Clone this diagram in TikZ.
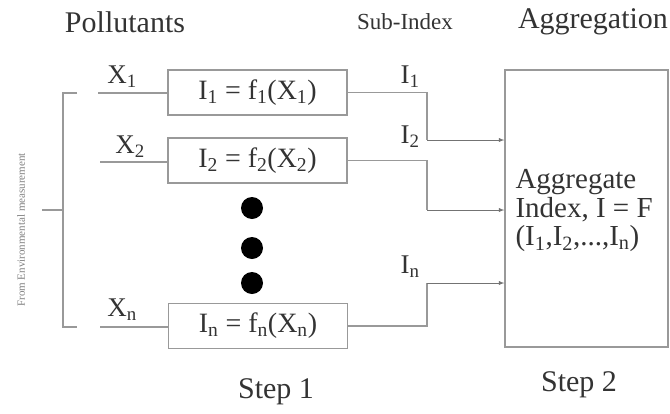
\documentclass[tikz,border=0pt]{standalone}
\usepackage{fontspec}
\setmainfont{Liberation Serif}
\usepackage{tikz}
\usetikzlibrary{
    arrows,
    positioning
}
\newcommand{\sbs}[1]{\textsubscript{#1}}
\tikzset{
    fbox/.style={draw=black!40, line width=1.3pt, minimum width=179pt, minimum height=45pt, inner sep=0pt, text=black!80, font=\fontsize{28}{30}\selectfont},
    lbl/.style={text=black!80, font=\fontsize{27}{30}\selectfont},
    head/.style={text=black!80, font=\fontsize{30}{32}\selectfont},
    wire/.style={draw=black!40, line width=1.3pt},
    feed/.style={draw=black!55, line width=0.9pt, -latex}
}

\begin{document}
\begin{tikzpicture}[x=1pt, y=-1pt]
    \useasboundingbox (0, 0) rectangle (670, 413);
    \node[head] (hpol) at (125, 22) {Pollutants};
    \node[head, font=\fontsize{23}{25}\selectfont] (hsub) at (405, 22) {Sub-Index};
    \node[head] (hagg) at (593, 22) {Aggregation};
    \node[rotate=90, text=black!50, font=\fontsize{11}{12}\selectfont] (meas) at (21, 230) {From Environmental measurement};

    \node[fbox] (f1) at (257.5, 92.5) {I\sbs{1} = f\sbs{1}(X\sbs{1})};
    \node[fbox] (f2) at (257.5, 160.5) {I\sbs{2} = f\sbs{2}(X\sbs{2})};
    \node[fbox] (fn) at (258, 326) {I\sbs{n} = f\sbs{n}(X\sbs{n})};
    \node[draw=black!40, line width=1.3pt, minimum width=163pt, minimum height=277pt, inner sep=0pt] (agg) at (586.5, 208.5) {};
    \node[lbl, align=left, anchor=west, font=\fontsize{29}{28.5}\selectfont] (aggtxt) at (512, 211) {Aggregate\\Index, I = F\\(I\sbs{1},I\sbs{2},...,I\sbs{n})};

    \node[lbl] (x1) at (122, 77) {X\sbs{1}};
    \node[lbl] (x2) at (130, 147) {X\sbs{2}};
    \node[lbl] (xn) at (122, 310) {X\sbs{n}};
    \node[lbl] (i1) at (410, 77) {I\sbs{1}};
    \node[lbl] (i2) at (410, 137) {I\sbs{2}};
    \node[lbl] (in) at (410, 267) {I\sbs{n}};

    \foreach \yy [count=\k] in {208, 248, 283}
        \fill[black] (252, \yy) circle (11) coordinate (dot\k);

    \coordinate (s1) at (98, 93);
    \coordinate (s2) at (100, 162);
    \coordinate (sn) at (100, 327);
    \coordinate (j1) at (427, 140);
    \coordinate (j2) at (427, 210);
    \coordinate (jn) at (427, 283);
    \draw[wire] (s1) -- (s1 -| f1.west);
    \draw[wire] (s2) -- (s2 -| f2.west);
    \draw[wire] (sn) -- (sn -| fn.west);
    \draw[wire] (77, 93) -- (63, 93) -- (63, 327) -- (77, 327)
                (63, 210) -- (42, 210);
    \draw[wire] (f1.east) -| (j1);
    \draw[wire] (f2.east) -| (j2);
    \draw[wire] (fn.east) -| (jn);
    \draw[feed] (j1) -- (j1 -| agg.west);
    \draw[feed] (j2) -- (j2 -| agg.west);
    \draw[feed] (jn) -- (jn -| agg.west);

    \node[head] (st1) at (276, 392) {Step 1};
    \node[head] (st2) at (579, 385) {Step 2};
\end{tikzpicture}
\end{document}
